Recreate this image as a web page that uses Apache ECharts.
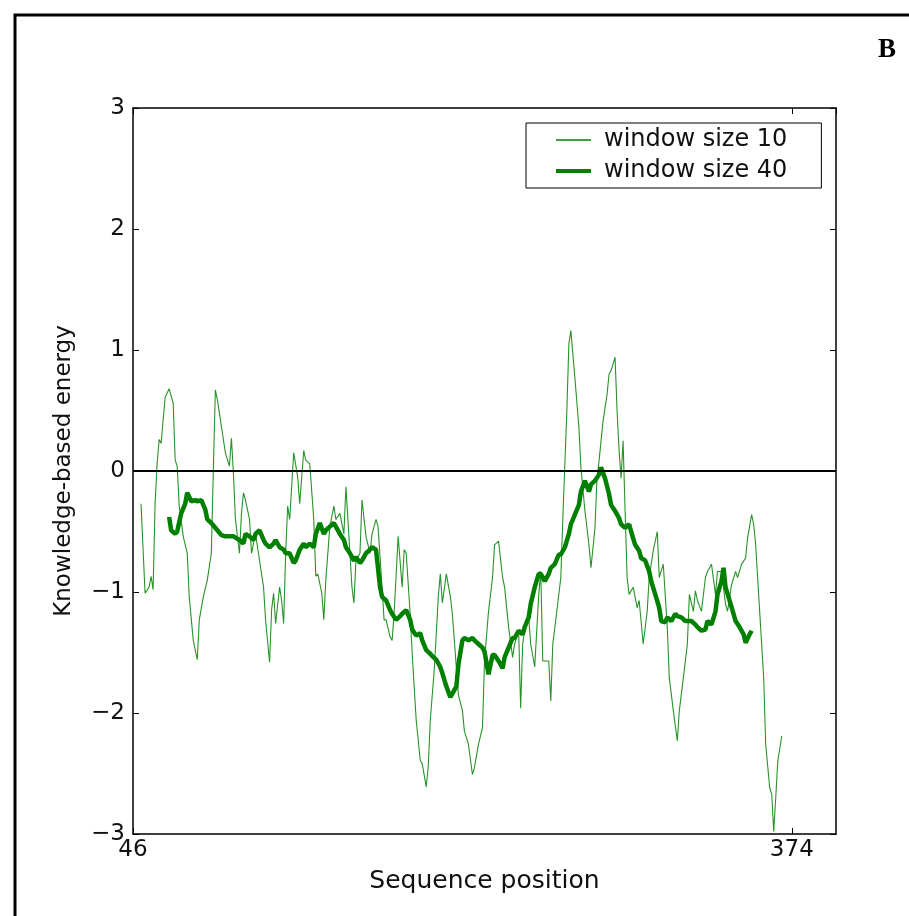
<!DOCTYPE html>
<html>
<head>
<meta charset="utf-8">
<script src="https://cdn.jsdelivr.net/npm/echarts@6/dist/echarts.min.js"></script>
<style>
html,body{margin:0;padding:0;background:#fff;}
#chart{width:909px;height:916px;}
</style>
</head>
<body>
<div id="chart"></div>
<script>
// window size 10 (thin line)
var thinPos = [50,52,54,55,56,57,58,59,60,62,64,66,67,68,69,71,73,74,76,78,79,81,83,85,86,87,88,90,92,94,95,96,97,99,100,101,102,104,105,107,109,111,112,114,115,116,117,119,120,121,122,123,124,125,126,128,129,131,132,134,136,137,138,140,141,142,144,146,147,149,151,152,153,155,156,157,159,160,162,164,165,167,168,170,171,172,174,175,176,178,180,181,182,184,185,187,189,190,192,193,194,196,198,199,200,202,204,205,
208,210,211,213,215,216,218,220,221,223,225,226,228,230,231,233,235,236,238,239,240,241,243,244,246,248,249,250,253,254,255,257,259,260,262,263,264,266,268,269,271,273,274,276,277,278,280,282,283,284,286,287,288,289,290,291,292,293,295,297,298,300,302,303,305,307,308,310,312,313,315,317,318,320,322,323,325,326,327,329,331,332,334,336,337,339,341,342,344,346,347,349,351,352,354,355,356,358,360,361,363,364,365,366,367,369];
var thinVal = [-0.27,-1.01,-0.96,-0.87,-0.98,-0.27,0.06,0.26,0.23,0.61,0.68,0.56,0.09,0.04,-0.29,-0.54,-0.68,-1.04,-1.40,-1.56,-1.23,-1.04,-0.90,-0.68,0.01,0.67,0.59,0.37,0.15,0.04,0.27,-0.02,-0.40,-0.68,-0.35,-0.18,-0.24,-0.40,-0.68,-0.52,-0.74,-0.96,-1.23,-1.58,-1.15,-1.01,-1.26,-0.96,-1.07,-1.26,-0.68,-0.29,-0.40,-0.13,0.15,-0.05,-0.27,0.17,0.09,0.06,-0.40,-0.87,-0.85,-1.01,-1.23,-0.90,-0.46,-0.29,-0.40,-0.35,-0.52,-0.13,-0.40,-0.96,-1.09,-0.74,-0.68,-0.24,-0.54,-0.68,-0.52,-0.40,-0.46,-0.96,-1.23,-1.23,-1.37,-1.40,-1.18,-0.54,-0.96,-0.65,-0.68,-1.18,-1.51,-2.06,-2.39,-2.42,-2.61,-2.44,-2.06,-1.64,-1.04,-0.85,-1.09,-0.85,-1.04,-1.18,
-1.85,-1.98,-2.15,-2.26,-2.51,-2.45,-2.26,-2.12,-1.57,-1.16,-0.88,-0.61,-0.58,-0.88,-0.96,-1.29,-1.54,-1.43,-1.32,-1.96,-1.43,-1.32,-1.21,-1.43,-1.62,-1.02,-0.83,-1.57,-1.57,-1.90,-1.43,-1.16,-0.88,-0.39,0.50,1.05,1.16,0.77,0.36,0.03,-0.33,-0.61,-0.80,-0.47,-0.06,0.08,0.41,0.63,0.80,0.83,0.94,0.50,0.17,-0.06,0.25,-0.33,-0.88,-1.02,-0.96,-1.13,-1.07,-1.43,-1.16,-0.88,-0.66,-0.50,-0.88,-0.77,-1.29,-1.71,-1.98,-2.23,-1.98,-1.71,-1.43,-1.02,-1.16,-0.99,-1.07,-1.16,-0.88,-0.83,-0.77,-1.02,-0.83,-0.83,-1.10,-1.16,-0.94,-0.83,-0.88,-0.77,-0.72,-0.55,-0.36,-0.44,-0.61,-1.16,-1.71,-2.26,-2.62,-2.67,-2.98,-2.70,-2.40,-2.19];

// window size 40 (thick line)
var thickPos = [64,65,67,68,70,72,73,75,77,78,80,82,83,85,88,90,92,96,99,101,102,104,106,107,109,111,112,114,116,117,119,121,122,124,126,127,129,131,132,134,136,137,139,141,142,144,146,147,149,151,152,154,156,157,159,160,162,164,165,167,169,170,172,174,175,177,179,180,182,184,185,187,189,190,192,194,195,197,199,200,202,204,205,207,208,
210,211,213,215,216,218,220,221,223,225,226,228,230,231,233,235,236,238,240,241,243,244,246,248,249,251,253,254,256,258,259,261,263,264,266,268,269,271,273,274,276,278,279,281,283,284,286,288,289,291,293,294,296,298,299,301,303,304,306,308,309,311,312,314,316,317,319,321,322,324,326,327,329,331,332,334,336,337,339,340,341,343,345,346,348,350,351,353,354];
var thickVal = [-0.38,-0.49,-0.52,-0.50,-0.35,-0.27,-0.18,-0.25,-0.24,-0.25,-0.24,-0.32,-0.40,-0.43,-0.49,-0.53,-0.54,-0.54,-0.57,-0.60,-0.52,-0.54,-0.57,-0.52,-0.49,-0.57,-0.60,-0.63,-0.60,-0.57,-0.63,-0.65,-0.68,-0.68,-0.76,-0.74,-0.65,-0.60,-0.63,-0.60,-0.63,-0.52,-0.43,-0.52,-0.49,-0.46,-0.43,-0.46,-0.52,-0.57,-0.63,-0.68,-0.74,-0.71,-0.76,-0.74,-0.68,-0.65,-0.63,-0.65,-0.96,-1.04,-1.07,-1.15,-1.18,-1.23,-1.20,-1.18,-1.15,-1.23,-1.31,-1.36,-1.34,-1.40,-1.48,-1.51,-1.53,-1.56,-1.62,-1.67,-1.78,-1.87,-1.84,-1.78,-1.60,
-1.40,-1.38,-1.40,-1.38,-1.40,-1.43,-1.46,-1.49,-1.68,-1.52,-1.52,-1.57,-1.63,-1.54,-1.46,-1.38,-1.38,-1.32,-1.35,-1.29,-1.21,-1.10,-0.96,-0.85,-0.85,-0.91,-0.85,-0.80,-0.77,-0.69,-0.69,-0.63,-0.52,-0.44,-0.36,-0.28,-0.17,-0.08,-0.17,-0.11,-0.08,-0.03,0.03,-0.06,-0.19,-0.28,-0.33,-0.39,-0.44,-0.47,-0.44,-0.50,-0.61,-0.66,-0.72,-0.74,-0.83,-0.91,-1.02,-1.13,-1.24,-1.25,-1.21,-1.24,-1.18,-1.20,-1.21,-1.24,-1.24,-1.24,-1.27,-1.29,-1.32,-1.31,-1.24,-1.27,-1.16,-1.02,-0.91,-0.80,-0.96,-1.07,-1.18,-1.24,-1.29,-1.35,-1.42,-1.35,-1.32];

var seriesNames = ['window size 10', 'window size 40'];
var xTicks = [46, 374];
var yTicks = [-3, -2, -1, 0, 1, 2, 3];
var xTitle = 'Sequence position';
var yTitle = 'Knowledge-based energy';
var panelLabel = 'B';

function pairs(xs, ys) { return xs.map(function (x, i) { return [x, ys[i]]; }); }

var FONT = 'DejaVu Sans';
var TXT = '#111';
var axisLineStyle = { color: '#000', width: 1.5 };
function xAx(pos, show) {
  return {
    type: 'value', position: pos, min: 46, max: 396, interval: xTicks[1] - xTicks[0],
    axisLine: { show: true, onZero: false, lineStyle: axisLineStyle },
    axisTick: { show: true, inside: true, length: 6, lineStyle: { color: '#000', width: 1 } },
    axisLabel: { show: show, fontSize: 23, fontFamily: FONT, color: TXT, margin: 5, showMaxLabel: false,
      formatter: function (v) { return xTicks.indexOf(v) >= 0 ? String(v) : ''; } },
    splitLine: { show: false },
    name: show ? xTitle : '', nameLocation: 'middle', nameGap: 35,
    nameTextStyle: { fontSize: 25, fontFamily: FONT, color: TXT }
  };
}
function yAx(pos, show) {
  return {
    type: 'value', position: pos, min: yTicks[0], max: yTicks[yTicks.length - 1], interval: 1,
    axisLine: { show: true, onZero: false, lineStyle: axisLineStyle },
    axisTick: { show: true, inside: true, length: 6, lineStyle: { color: '#000', width: 1 } },
    axisLabel: { show: show, fontSize: 23, fontFamily: FONT, color: TXT, margin: 8,
      formatter: function (v) { return v < 0 ? '\u2212' + Math.abs(v) : String(v); } },
    splitLine: { show: false },
    name: show ? yTitle : '', nameLocation: 'middle', nameGap: 57, nameRotate: 90,
    nameTextStyle: { fontSize: 23, fontFamily: FONT, color: TXT }
  };
}

var chart = echarts.init(document.getElementById('chart'), null, { renderer: 'canvas' });
chart.setOption({
  animation: false,
  backgroundColor: '#fff',
  grid: { left: 133, right: 73, top: 108, bottom: 82, containLabel: false },
  xAxis: [xAx('bottom', true), xAx('top', false)],
  yAxis: [yAx('left', true), yAx('right', false)],
  legend: {
    left: 526, top: 123, orient: 'vertical',
    padding: [4, 34, 4, 30], itemGap: 5, itemWidth: 35, itemHeight: 14,
    backgroundColor: '#fff', borderColor: '#000', borderWidth: 1,
    textStyle: { fontSize: 24, fontFamily: FONT, color: TXT, lineHeight: 26, padding: [0, 0, 0, 8] },
    data: [
      { name: seriesNames[0], icon: 'path://M0,0M0,14M0,6.3h35v1.4h-35z' },
      { name: seriesNames[1], icon: 'path://M0,0M0,14M0,5h35v4h-35z' }
    ]
  },
  graphic: [
    { type: 'rect', shape: { x: 15, y: 15, width: 1000, height: 1000 }, style: { fill: 'none', stroke: '#000', lineWidth: 3 }, silent: true, z: 100 },
    { type: 'text', left: 878, top: 37, style: { text: panelLabel, font: 'bold 27px "Liberation Serif"', fill: '#000' }, z: 100 }
  ],
  series: [
    {
      name: seriesNames[0], type: 'line', xAxisIndex: 0, yAxisIndex: 0,
      data: pairs(thinPos, thinVal), symbol: 'none', showSymbol: false,
      lineStyle: { color: '#008000', width: 1.1, opacity: 0.85 }, itemStyle: { color: '#008000' },
      z: 2,
      markLine: {
        silent: true, symbol: 'none', label: { show: false },
        lineStyle: { color: '#000', width: 2, type: 'solid' },
        data: [{ yAxis: 0 }]
      }
    },
    {
      name: seriesNames[1], type: 'line', xAxisIndex: 0, yAxisIndex: 0,
      data: pairs(thickPos, thickVal), symbol: 'none', showSymbol: false,
      lineStyle: { color: '#008000', width: 4.5 }, itemStyle: { color: '#008000' },
      z: 3
    }
  ]
});
</script>
</body>
</html>
